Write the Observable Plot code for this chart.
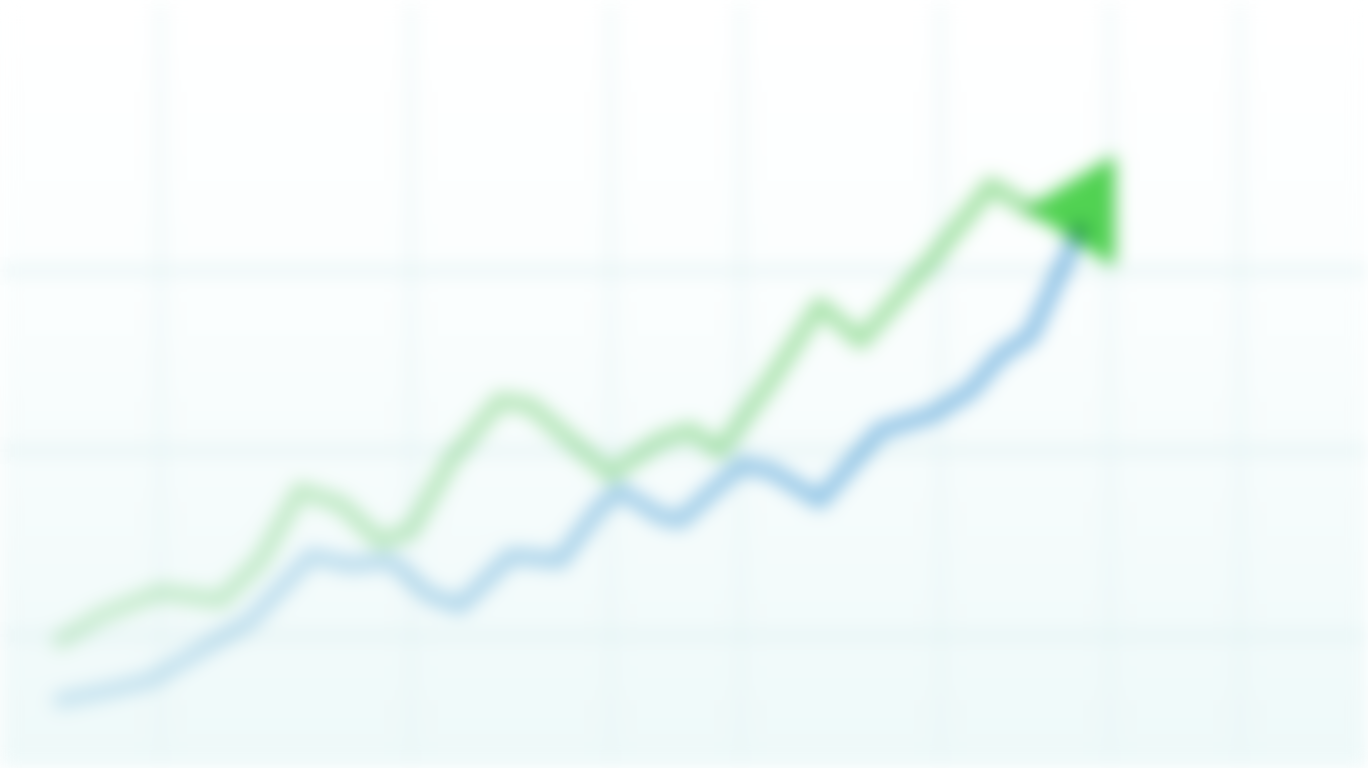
<!DOCTYPE html>
<html>
<head>
<meta charset="utf-8">
<script src="https://cdn.jsdelivr.net/npm/d3@7"></script>
<script src="https://cdn.jsdelivr.net/npm/@observablehq/plot@0.6"></script>
<style>
  html, body { margin: 0; padding: 0; background: #ffffff; overflow: hidden; }
  #chart svg { display: block; filter: blur(9px); }
</style>
</head>
<body>
<div id="chart"></div>
<script>
// Series A (green) — x positions and values
const greenX = [4.4, 7.3, 11.7, 16.1, 19.0, 21.9, 24.9, 27.8, 30.0, 32.9, 36.5, 38.7, 41.7, 44.6, 48.2, 50.4, 52.6, 56.3, 59.9, 62.9, 68.0, 72.4, 75.3];
const greenY = [16.7, 19.9, 23.0, 21.9, 27.1, 36.2, 34.4, 29.5, 31.0, 40.1, 47.9, 47.3, 42.7, 38.3, 42.7, 44.0, 41.4, 50.5, 60.3, 55.7, 66.1, 75.9, 72.7];
// Series B (blue)
const blueX = [4.4, 8.0, 11.0, 14.6, 18.3, 22.7, 25.6, 28.5, 31.4, 33.6, 37.3, 40.9, 43.9, 45.3, 48.2, 49.7, 54.1, 56.3, 59.9, 64.3, 68.0, 70.9, 73.1, 75.3, 77.5, 78.9];
const blueY = [8.9, 10.2, 11.5, 15.4, 19.3, 27.7, 26.5, 27.1, 22.5, 21.2, 27.7, 27.1, 34.2, 36.2, 32.9, 32.3, 39.5, 38.8, 34.9, 44.0, 46.0, 49.2, 53.8, 56.4, 64.8, 70.1];
// Arrowhead (tail x, tip x, and its spans)
const arrowX = [75.3, 81.3];
const arrowLow = [72.7, 65.9];
const arrowHigh = [72.7, 79.2];
// Grid positions
const gridX = [11.7, 30.0, 44.6, 54.1, 68.7, 81.1, 90.6];
const gridY = [17.3, 41.4, 64.8];

const green = greenX.map((x, i) => ({x, y: greenY[i]}));
const blue = blueX.map((x, i) => ({x, y: blueY[i]}));
const arrow = arrowX.map((x, i) => ({x, y1: arrowLow[i], y2: arrowHigh[i]}));

const W = 1368, H = 768;
const chart = Plot.plot({
  width: W,
  height: H,
  margin: 0,
  x: {domain: [0, 100], axis: null},
  y: {domain: [0, 100], axis: null},
  marks: [
    Plot.frame({fill: "url(#bgGrad)", stroke: null}),
    Plot.ruleX(gridX, {stroke: "#e6f4f5", strokeWidth: 5}),
    Plot.ruleY(gridY, {stroke: "#e2f2f3", strokeWidth: 7}),
    Plot.line(blue, {x: "x", y: "y", stroke: "url(#blueGrad)", strokeWidth: 16, curve: "linear", strokeLinejoin: "round", strokeLinecap: "round", mixBlendMode: "multiply"}),
    Plot.line(green, {x: "x", y: "y", stroke: "url(#greenGrad)", strokeWidth: 17, curve: "linear", strokeLinejoin: "round", strokeLinecap: "round", mixBlendMode: "multiply"}),
    Plot.areaY(arrow, {x: "x", y1: "y1", y2: "y2", fill: "#52d352", stroke: "#52d352", strokeWidth: 6, strokeLinejoin: "round", mixBlendMode: "multiply"})
  ]
});

const defs = d3.select(chart).insert("defs", ":first-child");
function grad(id, stops, vertical) {
  const g = defs.append("linearGradient").attr("id", id)
    .attr("gradientUnits", "userSpaceOnUse")
    .attr("x1", 0).attr("y1", 0)
    .attr("x2", vertical ? 0 : W).attr("y2", vertical ? H : 0);
  stops.forEach(([o, c]) => g.append("stop").attr("offset", o).attr("stop-color", c));
}
grad("bgGrad", [[0, "#ffffff"], [0.35, "#fbfefe"], [1, "#eef9f9"]], true);
grad("blueGrad", [[0, "#d6eaf5"], [0.3, "#bcdcef"], [0.6, "#92c5e8"], [1, "#7ab6e2"]], false);
grad("greenGrad", [[0, "#d8f2d8"], [0.35, "#bde9bd"], [0.7, "#a6e3a6"], [1, "#90dc90"]], false);

document.getElementById("chart").appendChild(chart);
</script>
</body>
</html>
